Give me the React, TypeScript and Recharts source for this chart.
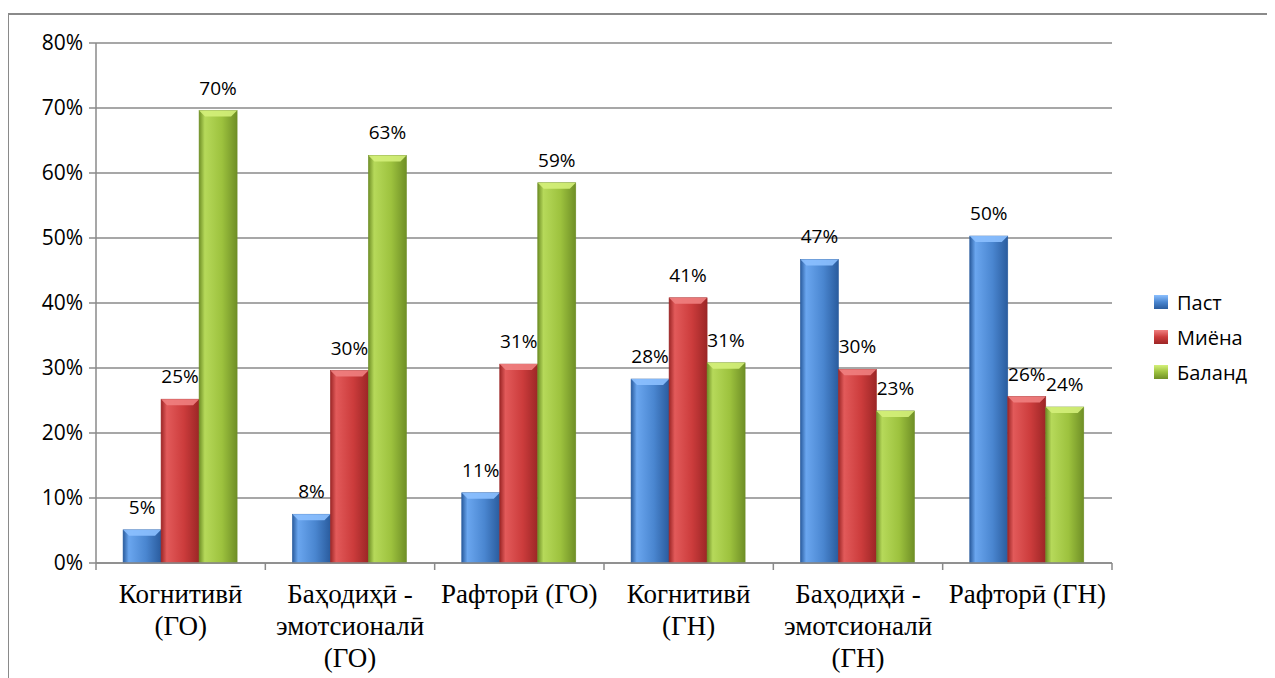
import React from 'react';
import { BarChart, Bar, XAxis, YAxis, CartesianGrid, LabelList } from 'recharts';

const categories = ['Когнитивӣ (ГО)', 'Баҳодиҳӣ - эмотсионалӣ (ГО)', 'Рафторӣ (ГО)', 'Когнитивӣ (ГН)', 'Баҳодиҳӣ - эмотсионалӣ (ГН)', 'Рафторӣ (ГН)'];
const categoryLines = [
  ['Когнитивӣ', '(ГО)'],
  ['Баҳодиҳӣ -', 'эмотсионалӣ', '(ГО)'],
  ['Рафторӣ (ГО)'],
  ['Когнитивӣ', '(ГН)'],
  ['Баҳодиҳӣ -', 'эмотсионалӣ', '(ГН)'],
  ['Рафторӣ (ГН)'],
];
const pastValues = [0.051, 0.075, 0.108, 0.283, 0.467, 0.503];
const miyonaValues = [0.252, 0.296, 0.306, 0.408, 0.298, 0.256];
const balandValues = [0.696, 0.627, 0.585, 0.308, 0.234, 0.24];
const seriesNames = ['Паст', 'Миёна', 'Баланд'];
const yTicks = [0, 0.1, 0.2, 0.3, 0.4, 0.5, 0.6, 0.7, 0.8];

const data = categories.map((c, i) => ({
  name: c,
  past: pastValues[i],
  miyona: miyonaValues[i],
  baland: balandValues[i],
}));

const CHART_W = 1267;
const CHART_H = 670;
const MARGIN = { top: 35, right: 163, bottom: 5, left: 8 };
const Y_W = 80;
const PLOT_W = CHART_W - MARGIN.left - MARGIN.right - Y_W;
const BAND = PLOT_W / categories.length;
const GRAY = '#8a8a8a';
const SANS = "'Open Sans', Lato, sans-serif";
const SERIF = "'Times New Roman', 'Liberation Serif', 'DejaVu Serif', serif";

const palettes = [
  { id: 'gBlue', light: '#6aa6ef', mid: '#4a86d0', dark: '#2a5c9e', top: '#8cc0ff' },
  { id: 'gRed', light: '#e25a5a', mid: '#cc3c3c', dark: '#9c2626', top: '#f08080' },
  { id: 'gGreen', light: '#b6d95a', mid: '#9dc23e', dark: '#6f8f26', top: '#d4f07a' },
];

const makeShape = (p: typeof palettes[number]) => (props: any) => {
  const { x, y, width, height } = props;
  if (!height || height <= 0) return <g />;
  const b = Math.min(6, height / 2, width / 4);
  return (
    <g>
      <rect x={x} y={y} width={width} height={height} fill={`url(#${p.id})`} stroke={p.dark} strokeWidth={0.6} />
      <polygon
        points={`${x},${y} ${x + width},${y} ${x + width - b},${y + b} ${x + b},${y + b}`}
        fill={p.top}
        opacity={0.9}
      />
    </g>
  );
};

const XTick = (props: any) => {
  const { x, y, payload, index } = props;
  const i = payload?.index ?? index;
  const lines = categoryLines[i] || [];
  const axisY = y - 7;
  return (
    <g>
      <line x1={x - BAND / 2} y1={axisY} x2={x - BAND / 2} y2={axisY + 7} stroke={GRAY} strokeWidth={1.5} />
      {i === categories.length - 1 && (
        <line x1={x + BAND / 2} y1={axisY} x2={x + BAND / 2} y2={axisY + 7} stroke={GRAY} strokeWidth={1.5} />
      )}
      <text
        x={x}
        y={axisY + 40}
        textAnchor="middle"
        fill="#000"
        style={{ fontFamily: SERIF, fontSize: '27px' }}
      >
        {lines.map((l: string, k: number) => (
          <tspan key={k} x={x} dy={k === 0 ? 0 : 32}>
            {l}
          </tspan>
        ))}
      </text>
    </g>
  );
};

const pct = (v: number) => `${Math.round(v * 100)}%`;

const renderLabel = (props: any) => {
  const { x, y, width, value } = props;
  return (
    <text x={x + width / 2} y={y - 16} textAnchor="middle" style={{ fontFamily: SANS, fontSize: 19, fill: '#000' }}>
      {pct(value)}
    </text>
  );
};

const keys = ['past', 'miyona', 'baland'];

export default function App() {
  return (
    <div style={{ position: 'relative', width: CHART_W, height: CHART_H }}>
      <div style={{ position: 'absolute', left: -1, top: 5, width: 1300, height: 2, background: GRAY }} />
      <div style={{ position: 'absolute', left: -1, top: 5, width: 2, height: 700, background: GRAY }} />
      <div style={{ position: 'absolute', left: 0, top: 0 }}>
        <BarChart
          width={CHART_W}
          height={CHART_H}
          data={data}
          margin={MARGIN}
          barCategoryGap="16%"
          barGap={0}
        >
          <defs>
            {palettes.map((p) => (
              <linearGradient key={p.id} id={p.id} x1="0" y1="0" x2="1" y2="0">
                <stop offset="0%" stopColor={p.dark} />
                <stop offset="15%" stopColor={p.light} />
                <stop offset="60%" stopColor={p.mid} />
                <stop offset="100%" stopColor={p.dark} />
              </linearGradient>
            ))}
          </defs>
          <CartesianGrid vertical={false} stroke={GRAY} strokeWidth={1.5} />
          <XAxis
            dataKey="name"
            height={110}
            interval={0}
            tickLine={false}
            tickSize={7}
            tickMargin={0}
            axisLine={{ stroke: GRAY, strokeWidth: 1.5 }}
            tick={<XTick />}
          />
          <YAxis
            width={Y_W}
            domain={[0, 0.8]}
            ticks={yTicks}
            tickFormatter={pct}
            tickSize={7}
            tickMargin={6}
            axisLine={{ stroke: GRAY, strokeWidth: 1.5 }}
            tickLine={{ stroke: GRAY, strokeWidth: 1.5 }}
            tick={{ fontFamily: SANS, fontSize: 21, fill: '#000' }}
          />
          {keys.map((k, i) => (
            <Bar
              key={k}
              dataKey={k}
              name={seriesNames[i]}
              fill={palettes[i].mid}
              shape={makeShape(palettes[i])}
              isAnimationActive={false}
            >
              <LabelList dataKey={k} content={renderLabel} />
            </Bar>
          ))}
        </BarChart>
      </div>
      <div style={{ position: 'absolute', left: 1146, top: 280, fontFamily: SANS, fontSize: 20, color: '#000' }}>
        {seriesNames.map((n, i) => (
          <div key={n} style={{ display: 'flex', alignItems: 'center', height: 28, marginBottom: 7 }}>
            <span
              style={{
                display: 'inline-block',
                width: 14,
                height: 14,
                marginRight: 9,
                background: `linear-gradient(180deg, ${palettes[i].top}, ${palettes[i].mid} 50%, ${palettes[i].dark})`,
              }}
            />
            {n}
          </div>
        ))}
      </div>
    </div>
  );
}
